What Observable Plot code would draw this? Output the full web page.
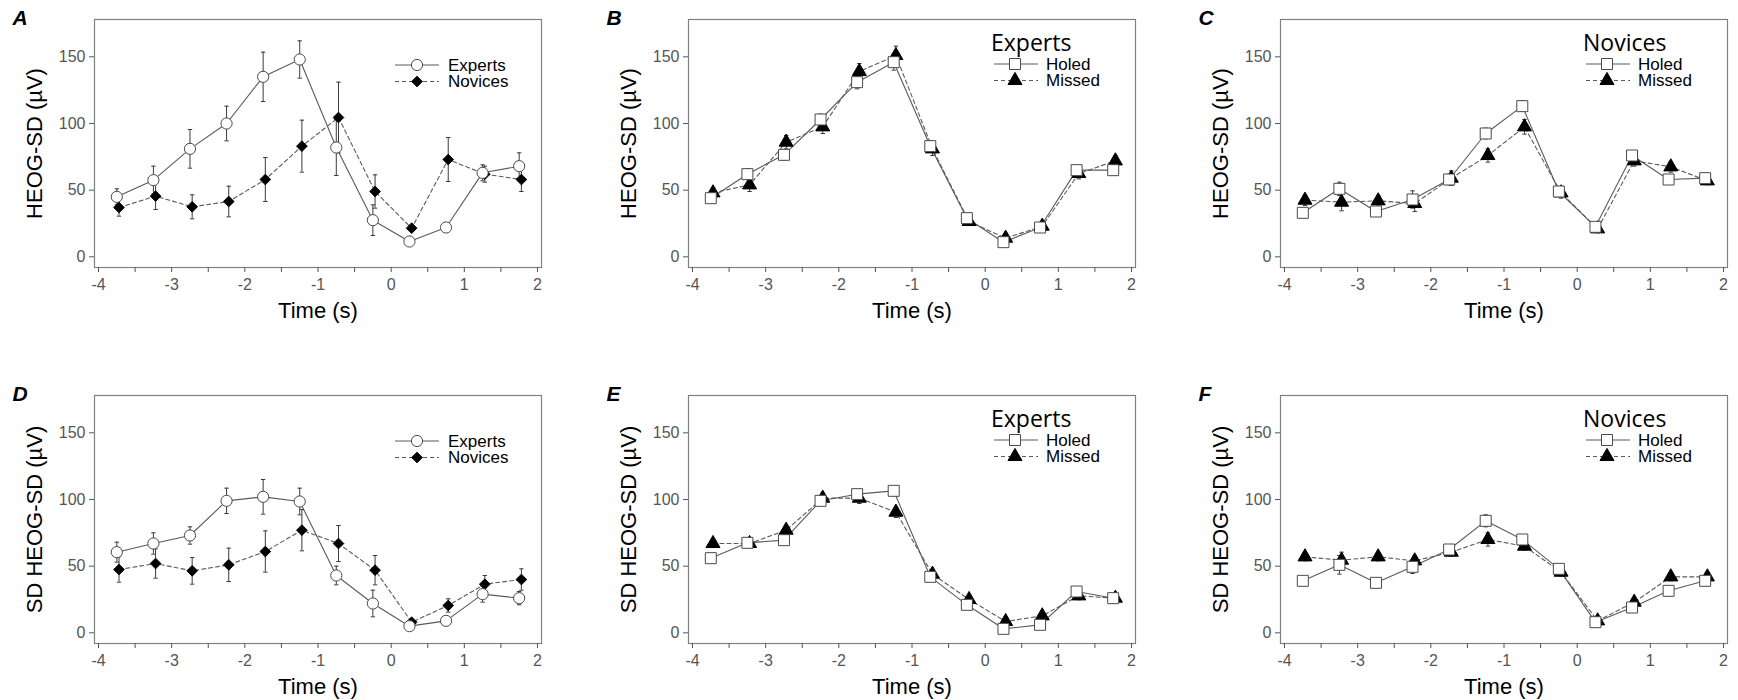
<!DOCTYPE html>
<html><head><meta charset="utf-8">
<script src="https://cdn.jsdelivr.net/npm/d3@7"></script>
<script src="https://cdn.jsdelivr.net/npm/@observablehq/plot@0.6"></script>
<style>
body{margin:0;background:#fff;width:1738px;height:700px;overflow:hidden;position:relative;font-family:"Liberation Sans",Arial,sans-serif;}
.panel{position:absolute;}
.panel svg{max-width:none !important;}
.panel g[aria-label="x-axis tick label"], .panel g[aria-label="y-axis tick label"]{font-size:16px !important;}
.panel g[aria-label="x-axis tick label"] text, .panel g[aria-label="y-axis tick label"] text{font-size:16px !important;}
</style></head><body>
<div id="root"></div>
<script>
// ---- data ----
const times = [-3.75,-3.25,-2.75,-2.25,-1.75,-1.25,-0.75,-0.25,0.25,0.75,1.25,1.75];
const xTickPositions = [-4,-3.5,-3,-2.5,-2,-1.5,-1,-0.5,0,0.5,1,1.5,2];
const xTickLabels = [-4,-3,-2,-1,0,1,2];
const yTicks = [0,50,100,150];

const panelLetters = ["A","B","C","D","E","F"];
const yTitles = ["HEOG-SD (µV)","SD HEOG-SD (µV)"];
const xTitle = "Time (s)";
const groupNames = ["Experts","Novices"];
const outcomeNames = ["Holed","Missed"];

// A: HEOG-SD, Experts vs Novices
const A_experts   = [45,57.5,81,100,135,148,82,27.5,11.5,22,63,68];
const A_expertsSE = [6,10.5,14.5,13,18.5,14,21,11.5,2,2,6,10];
const A_novices   = [37,45.5,37.5,41.5,58,83,104.5,49,21.5,73,62,58];
const A_novicesSE = [6.5,10,9,11.5,16.5,19.5,26.5,12.5,2,16.5,6,9];
// B: Experts, Holed vs Missed
const B_holed    = [44,62,76.5,103,131,146,83,29,11,22,65,65];
const B_holedSE  = [3,4,4,4,5,6,4,3,2,2,3,3];
const B_missed   = [48,54,86,97.5,139,151,81,26.5,14,23,62.5,72];
const B_missedSE = [4,5,5,5,6,7,5,3,3,3,4,4];
// C: Novices, Holed vs Missed
const C_holed    = [33,51,34,43,58,92.5,113,49,22.5,76,58,59];
const C_holedSE  = [3,5,3,6.5,4,4,4,3,2,3,3,3];
const C_missed   = [42.5,41,42,40,59,76,97.5,48,21,72,67.5,57];
const C_missedSE = [4,6.5,4,6,5.5,5,5.5,4,3,4,4,3];
// D: SD HEOG-SD, Experts vs Novices
const D_experts   = [60.5,67,73,99,102,98.5,43,22,5,9,29,26];
const D_expertsSE = [7.5,8,6.5,9.5,13,10,7,10,2,2,6,5];
const D_novices   = [47.5,52,46.5,51,61,77,67,47,8,20.5,36.5,40];
const D_novicesSE = [9.5,11,10,12.5,15.5,15.5,13.5,11,2,5,6.5,8];
// E: Experts, Holed vs Missed
const E_holed    = [56,67.5,69.5,99,104,106.5,42,21,3,6,31,26];
const E_holedSE  = [3,3,3,3,3,3,3,3,2,2,3,3];
const E_missed   = [67,67,77,101,101,90.5,44,25,8.5,12.75,27.75,26];
const E_missedSE = [3,3,3,4,4,4,3,3,2,2,3,3];
// F: Novices, Holed vs Missed
const F_holed    = [39,51,37.5,49.5,62.5,84,70,48,8,19,31.5,39];
const F_holedSE  = [3,7,3,5,3,4.5,3,3,2,2,3,3];
const F_missed   = [57,54.5,57,54,60.5,70,65,45.5,9,23,42,42];
const F_missedSE = [3,6,3,4,3,5,3,3,2,2,3,3];

// ---- styles ----
const H = 324, ML = 94, MT = 19, MB = 57, FRAME_W = 447;
const LINE = "#5a5a5a", BAR = "#3a3a3a";
const styleOpen = (sym) => ({symbol: sym, fill: "white", stroke: "#4a4a4a", dash: null});
const styleFilled = (sym) => ({symbol: sym, fill: "black", stroke: "black", dash: "4,3"});
const symR = {circle: 5.6, square: 6.2, triangle: 5.2, diamond2: 4.8};

function makePanel(cfg) {
  const W = cfg.width;
  const MR = W - ML - FRAME_W;
  const rows = [];
  cfg.series.forEach((s, k) => times.forEach((t, i) =>
    rows.push({k, t: t + (k === 1 ? 0.03 : 0), v: s.values[i], e: s.errors[i]})));
  const byK = k => rows.filter(r => r.k === k);
  const marks = [Plot.frame({stroke: "#808080", strokeWidth: 1.2})];
  cfg.series.forEach((s, k) => {
    marks.push(Plot.line(byK(k), {x: "t", y: "v", stroke: LINE, strokeWidth: 1.1, strokeDasharray: s.dash}));
  });
  cfg.series.forEach((s, k) => {
    const d = byK(k);
    marks.push(Plot.ruleX(d, {x: "t", y1: r => r.v - r.e, y2: r => r.v + r.e, stroke: BAR, strokeWidth: 1}));
    marks.push(Plot.link(d, {x1: r => r.t - 0.03, x2: r => r.t + 0.03, y1: r => r.v + r.e, y2: r => r.v + r.e, stroke: BAR}));
    marks.push(Plot.link(d, {x1: r => r.t - 0.03, x2: r => r.t + 0.03, y1: r => r.v - r.e, y2: r => r.v - r.e, stroke: BAR}));
  });
  [1, 0].forEach(k => {
    const s = cfg.series[k];
    marks.push(Plot.dot(byK(k), {x: "t", y: "v", symbol: s.symbol, r: symR[s.symbol], fill: s.fill, stroke: s.stroke, strokeWidth: 1}));
  });
  marks.push(Plot.axisX({ticks: xTickPositions, tickFormat: d => xTickLabels.includes(d) ? String(d) : "",
    tickSize: 5, tickPadding: 6, fontSize: 16, color: "#555", label: null}));
  marks.push(Plot.axisY({ticks: yTicks, tickFormat: d => String(d), tickSize: 5, tickPadding: 4,
    fontSize: 16, color: "#555", label: null}));
  marks.push(Plot.text([xTitle], {text: d => d, frameAnchor: "bottom", dy: 43, fontSize: 22, fill: "black",
    textAnchor: "middle", lineAnchor: "middle"}));
  marks.push(Plot.text([cfg.ytitle], {text: d => d, frameAnchor: "left", dx: -60, rotate: -90, fontSize: 22, fill: "black",
    textAnchor: "middle", lineAnchor: "middle"}));
  marks.push(Plot.text([cfg.letter], {text: d => d, frameAnchor: "top-left", dx: -82, dy: -1.5, fontSize: 21,
    fontWeight: "bold", fontStyle: "italic", textAnchor: "start", lineAnchor: "middle", fill: "black"}));

  const svg = Plot.plot({
    width: W, height: H, marginLeft: ML, marginRight: MR, marginTop: MT, marginBottom: MB,
    style: {fontFamily: "'Liberation Sans', Arial, sans-serif", fontSize: "16px", background: "transparent", overflow: "visible", maxWidth: "none"},
    x: {domain: [-4.055, 2.055]},
    y: {domain: [-8, 178]},
    marks
  });
  d3.select(svg).selectAll('g[aria-label="x-axis tick label"], g[aria-label="y-axis tick label"]')
    .attr("font-size", 16).style("font-size", "16px");

  // legend (key inside plot area)
  const g = d3.select(svg).append("g").attr("text-anchor", "start");
  let y0 = 65, lx0 = 395, lx1 = 439, mx = 417, tx = 448;
  if (cfg.legendTitle) {
    y0 = 64; lx0 = 400; lx1 = 444; mx = 421; tx = 452;
    g.append("text").attr("x", 397).attr("y", 43).attr("dy", "0.35em").attr("text-anchor", "start")
      .attr("font-family", "'Open Sans', sans-serif").attr("font-size", 23).attr("fill", "black").text(cfg.legendTitle);
  }
  const symMap = {circle: d3.symbolCircle, square: d3.symbolSquare, triangle: d3.symbolTriangle, diamond2: d3.symbolDiamond2};
  cfg.series.forEach((s, k) => {
    const y = y0 + k * 16.5;
    g.append("line").attr("x1", lx0).attr("x2", lx1).attr("y1", y).attr("y2", y)
      .attr("stroke", LINE).attr("stroke-width", 1.1).attr("stroke-dasharray", s.dash);
    const r = symR[s.symbol];
    g.append("path").attr("d", d3.symbol(symMap[s.symbol], Math.PI * r * r)())
      .attr("transform", `translate(${mx},${y})`).attr("fill", s.fill).attr("stroke", s.stroke);
    g.append("text").attr("x", tx).attr("y", y).attr("dy", "0.35em").attr("font-size", 17).attr("text-anchor", "start")
      .attr("fill", "black").text(s.name);
  });

  const div = document.createElement("div");
  div.className = "panel";
  div.style.left = cfg.left + "px";
  div.style.top = cfg.top + "px";
  div.appendChild(svg);
  document.getElementById("root").appendChild(div);
}

const colX = [0, 594, 1186], colW = [594, 592, 552], rowY = [0, 376];
const grp = (vals, se, vals2, se2) => [
  {name: groupNames[0], values: vals, errors: se, ...styleOpen("circle")},
  {name: groupNames[1], values: vals2, errors: se2, ...styleFilled("diamond2")}];
const out = (vals, se, vals2, se2) => [
  {name: outcomeNames[0], values: vals, errors: se, ...styleOpen("square")},
  {name: outcomeNames[1], values: vals2, errors: se2, ...styleFilled("triangle")}];

makePanel({letter: panelLetters[0], left: colX[0], width: colW[0], top: rowY[0], ytitle: yTitles[0], series: grp(A_experts, A_expertsSE, A_novices, A_novicesSE)});
makePanel({letter: panelLetters[1], left: colX[1], width: colW[1], top: rowY[0], ytitle: yTitles[0], legendTitle: groupNames[0], series: out(B_holed, B_holedSE, B_missed, B_missedSE)});
makePanel({letter: panelLetters[2], left: colX[2], width: colW[2], top: rowY[0], ytitle: yTitles[0], legendTitle: groupNames[1], series: out(C_holed, C_holedSE, C_missed, C_missedSE)});
makePanel({letter: panelLetters[3], left: colX[0], width: colW[0], top: rowY[1], ytitle: yTitles[1], series: grp(D_experts, D_expertsSE, D_novices, D_novicesSE)});
makePanel({letter: panelLetters[4], left: colX[1], width: colW[1], top: rowY[1], ytitle: yTitles[1], legendTitle: groupNames[0], series: out(E_holed, E_holedSE, E_missed, E_missedSE)});
makePanel({letter: panelLetters[5], left: colX[2], width: colW[2], top: rowY[1], ytitle: yTitles[1], legendTitle: groupNames[1], series: out(F_holed, F_holedSE, F_missed, F_missedSE)});
</script>
</body></html>
